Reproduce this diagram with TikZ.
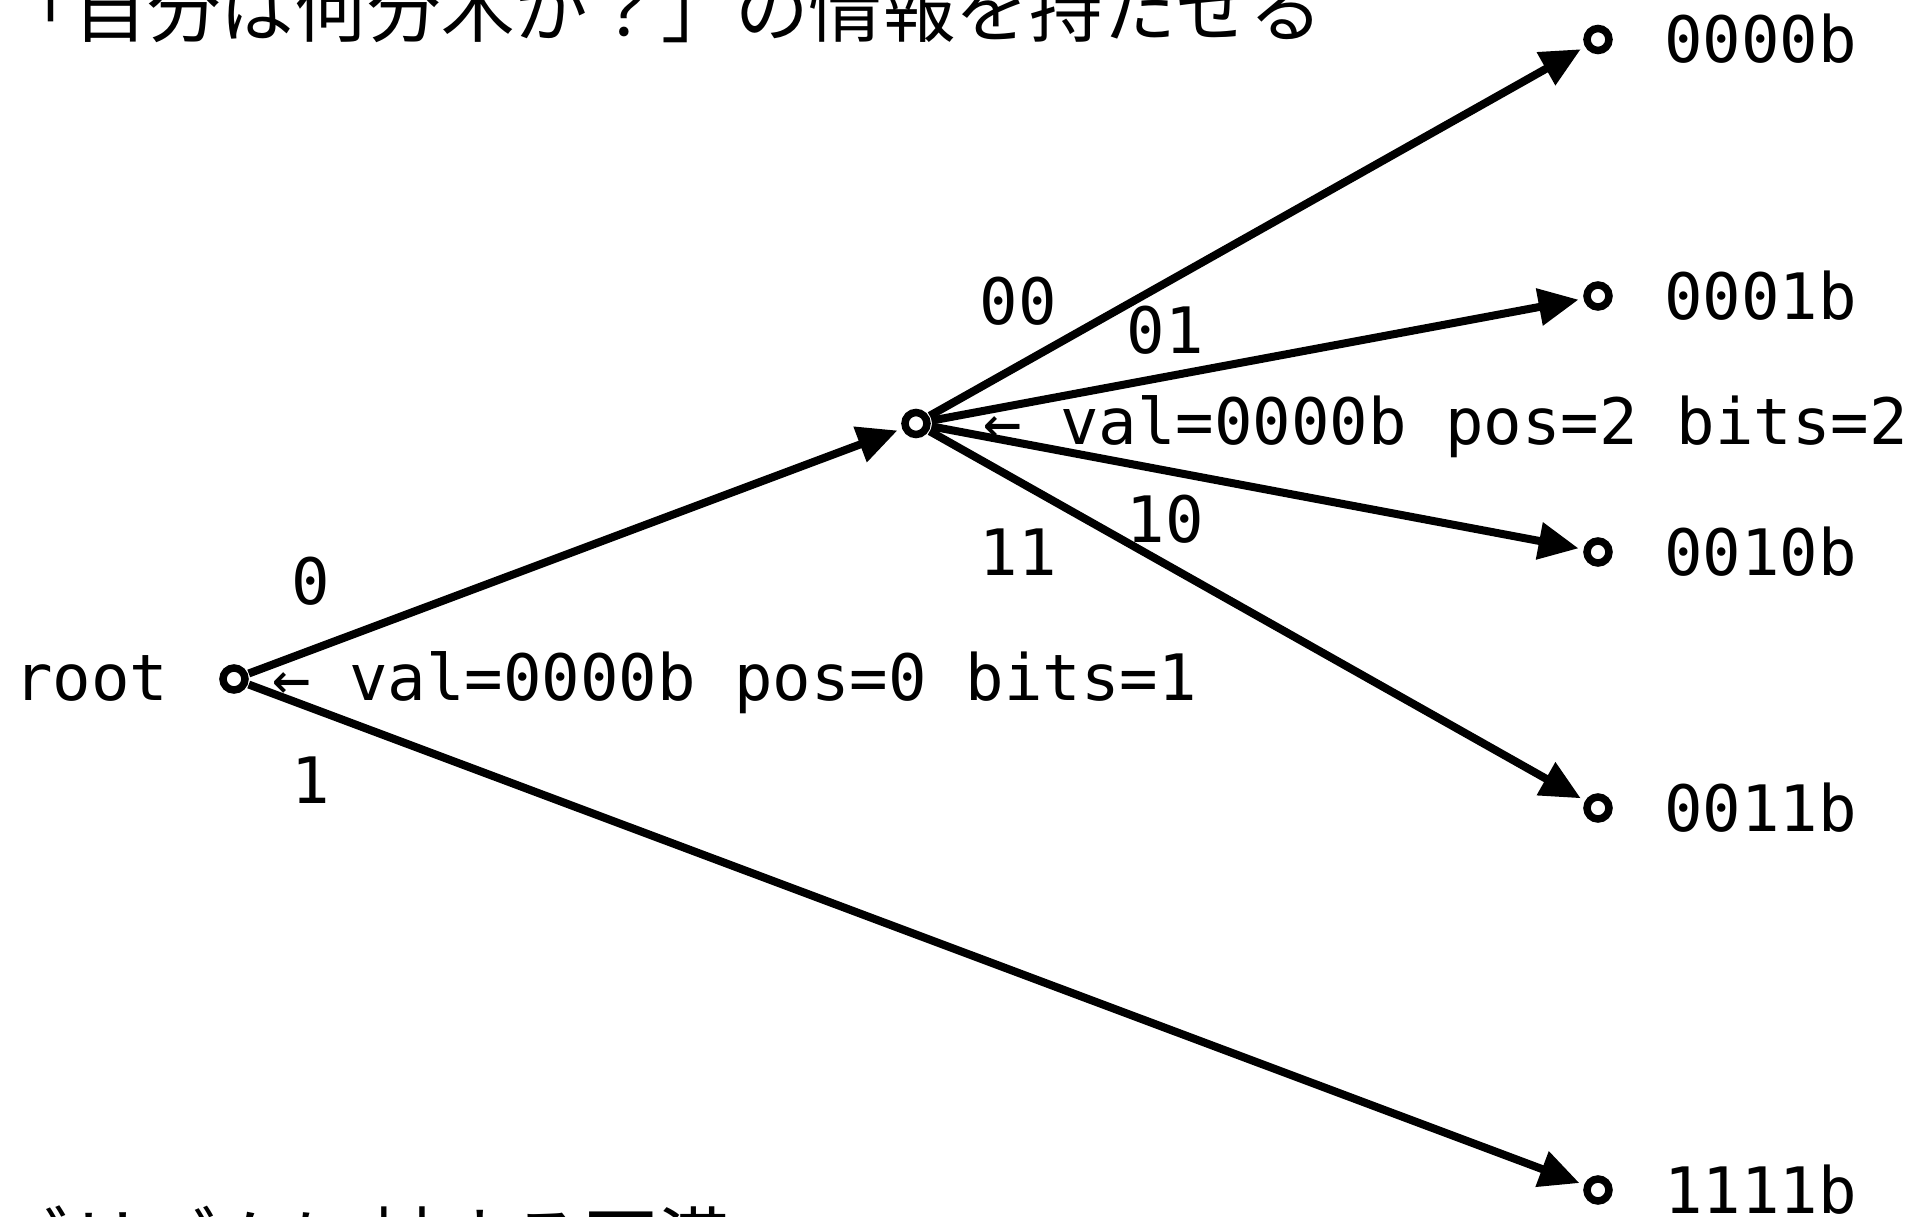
\documentclass[tikz,border=0pt]{standalone}
\usepackage{fontspec}
\newfontfamily\mono{DejaVu Sans Mono}
\newfontfamily\cjk{Noto Sans CJK JP}
\usetikzlibrary{arrows.meta}
\tikzset{
  dot/.style={circle, draw=black, line width=7.5pt, minimum size=22pt, inner sep=0pt},
  edge/.style={line width=8pt, -{Triangle[length=40pt,width=36pt]}, shorten >=5pt, shorten <=1pt},
  mtext/.style={font=\mono\fontsize{64}{70}\selectfont, inner sep=0pt, outer sep=0pt},
  jtext/.style={font=\cjk\fontsize{73.5}{80}\selectfont, inner sep=0pt, outer sep=0pt, anchor=base west},
}
\begin{document}
\begin{tikzpicture}[x=1pt,y=-1pt]
\useasboundingbox (0,0) rectangle (1919,1216);
\clip (0,0) rectangle (1919,1216);
\fill[white] (0,0) rectangle (1919,1216);
% headings (cut off by the frame)
\node[jtext] (top) at (0,36) {「自分は何分木か？」の情報を持たせる};
\node[jtext] (bot) at (-4,1268) {ゴリズムに対する不満};
% nodes
\node[dot] (root) at (234,679) {};
\node[dot] (mid) at (916,423.5) {};
\node[dot] (l0) at (1598,39.5) {};
\node[dot] (l1) at (1598,296) {};
\node[dot] (l2) at (1598,552) {};
\node[dot] (l3) at (1598,808) {};
\node[dot] (l4) at (1598,1190) {};
% labels
\node[mtext, anchor=base west] (rootlab) at (14,700) {root};
\node[mtext, anchor=base west] (rootinfo) at (272,700) {← val=0000b pos=0 bits=1};
\node[mtext, anchor=base west] (midinfo) at (983,444.5) {← val=0000b pos=2 bits=2};
\node[mtext, anchor=base west] (t0) at (1664,62.5) {0000b};
\node[mtext, anchor=base west] (t1) at (1664,319) {0001b};
\node[mtext, anchor=base west] (t2) at (1664,575) {0010b};
\node[mtext, anchor=base west] (t3) at (1664,831) {0011b};
\node[mtext, anchor=base west] (t4) at (1664,1213) {1111b};
% edges
\draw[edge] (root) -- (mid);
\draw[edge] (root) -- (l4);
\draw[edge] (mid) -- (l0);
\draw[edge] (mid) -- (l1);
\draw[edge] (mid) -- (l2);
\draw[edge] (mid) -- (l3);
% edge labels
\node[mtext] (e0) at (311,581) {0};
\node[mtext] (e1) at (311,780) {1};
\node[mtext] (e00) at (1018,301) {00};
\node[mtext] (e01) at (1165,330) {01};
\node[mtext] (e10) at (1165,519) {10};
\node[mtext] (e11) at (1018,552) {11};
\end{tikzpicture}
\end{document}
